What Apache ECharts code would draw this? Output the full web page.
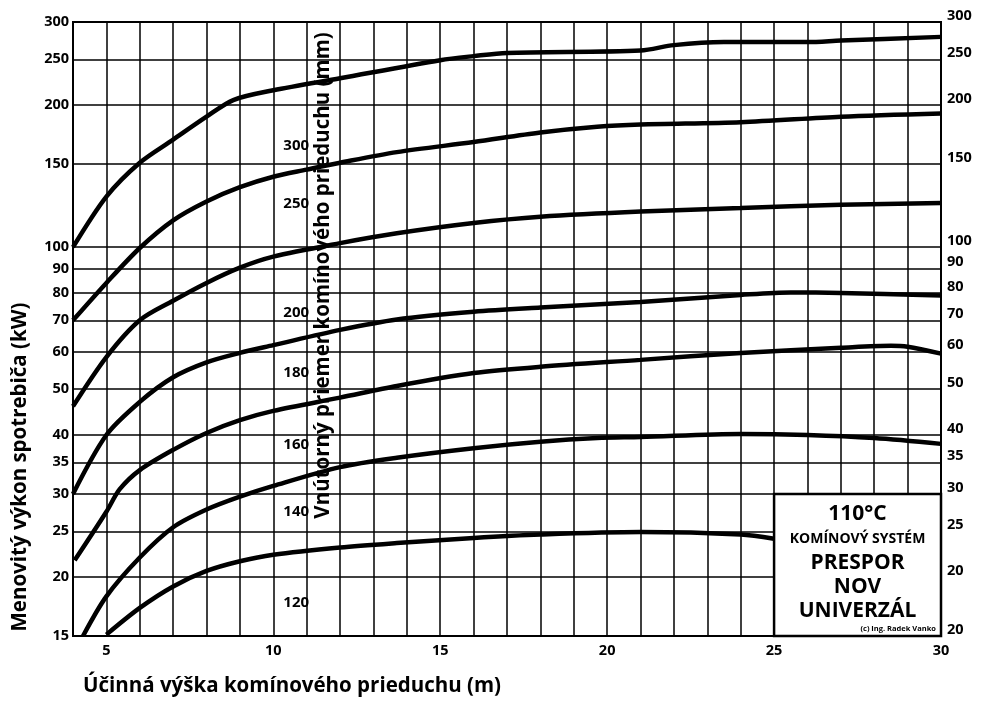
<!DOCTYPE html>
<html>
<head>
<meta charset="utf-8">
<script src="https://cdn.jsdelivr.net/npm/echarts@6/dist/echarts.min.js"></script>
<style>html,body{margin:0;padding:0;background:#fff}#c{width:981px;height:703px}</style>
</head>
<body>
<div id="c"></div>
<script>
// ---- data ----
const xLabelValues = [5, 10, 15, 20, 25, 30];
const yTickValues = [15, 20, 25, 30, 35, 40, 50, 60, 70, 80, 90, 100, 150, 200, 250, 300];
const yLeftLabels = ['15', '20', '25', '30', '35', '40', '50', '60', '70', '80', '90', '100', '150', '200', '250', '300'];
const yRightLabels = ['20', '20', '25', '30', '35', '40', '50', '60', '70', '80', '90', '100', '150', '200', '250', '300'];

const d300 = [[4,100],[5,128],[6,151],[7,169],[8,189],[8.8,205],[10,215],[12,228],[15,249],[16,254],[17,258],[21,261],[22,268],[23.5,272],[26,272],[27,274],[30,279]];
const d250 = [[4,70],[5,84],[6,99.6],[7,114],[8,125],[9,134],[10,141],[11,146],[12,151],[13.7,159],[16,167],[18,175],[19.7,180],[21,182],[24,184],[27,189],[30,192]];
const d200 = [[4,46],[5,58.5],[6,70],[7,77],[8,84],[9,90.5],[10,95.5],[12,102],[13.7,107],[16,112.5],[18,116],[21,119],[24,121],[27,123],[30,124]];
const d180 = [[4,30],[5,40],[6,47],[7,53],[8,57],[9,59.7],[10,62],[12,66.8],[13.7,70.3],[16,73],[18,74.5],[21,76.5],[24,79.2],[25.5,80.2],[27,80],[30,79]];
const d160 = [[4.05,21.7],[5,27.5],[5.4,30.7],[6,33.7],[7,37.2],[8,40.4],[9,43],[10,45],[12,48],[13.7,50.8],[16,54.1],[18,55.8],[21,57.7],[24,59.7],[27,61.2],[28.5,61.8],[29,61.5],[30,59.5]];
const d140 = [[4.3,15],[5,18.2],[6,22],[7,25.5],[8,27.8],[9,29.6],[10,31.2],[12,34.2],[13.7,35.8],[16,37.5],[18,38.7],[19.7,39.4],[21,39.6],[24,40.2],[26,40],[28,39.4],[30,38.3]];
const d120 = [[5,15.1],[6,17.2],[7,19.1],[8,20.6],[9,21.6],[10,22.3],[12,23.1],[13.7,23.6],[16,24.2],[18,24.6],[21,24.9],[24,24.6],[25,24.1]];

const diamNames = ['300', '250', '200', '180', '160', '140', '120'];
const diamLabelX = [10.7, 10.7, 10.7, 10.7, 10.7, 10.7, 10.7];
const diamLabelY = [164, 123.5, 72.5, 54, 38, 27.5, 17.6];

const boxX = [25, 30];
const boxY = [15, 30];

const xTitle = 'Účinná výška komínového prieduchu (m)';
const yTitle = 'Menovitý výkon spotrebiča (kW)';
const innerTitle = 'Vnútorný priemer komínového prieduchu (mm)';
const innerTitlePos = [11.5, 86.9];

// ---- chart ----
const FONT = 'Open Sans';
const chart = echarts.init(document.getElementById('c'), null, {renderer: 'canvas'});

function curve(data) {
  return {
    type: 'line', data: data, smooth: 0.3, showSymbol: false, symbol: 'none',
    lineStyle: {color: '#000', width: 4.5}, z: 5, silent: true
  };
}

const option = {
  backgroundColor: '#fff',
  animation: false,
  textStyle: {fontFamily: FONT},
  grid: {left: 73, right: 40, top: 22, bottom: 67, show: true, borderColor: '#000', borderWidth: 2, backgroundColor: '#fff'},
  xAxis: {
    type: 'value', min: 4, max: 30, interval: 1,
    axisLine: {show: true, lineStyle: {color: '#000', width: 2}},
    axisTick: {show: false},
    splitLine: {show: true, lineStyle: {color: '#000', width: 1.5}},
    axisLabel: {customValues: xLabelValues, color: '#000', fontWeight: 'bold', fontSize: 14.5, fontFamily: FONT, margin: 7}
  },
  yAxis: [{
    type: 'log', min: 15, max: 300, position: 'left',
    axisLine: {show: true, lineStyle: {color: '#000', width: 2}},
    axisTick: {show: false, customValues: yTickValues},
    splitLine: {show: true, lineStyle: {color: '#000', width: 1.5}},
    axisLabel: {customValues: yTickValues, color: '#000', fontWeight: 'bold', fontSize: 14.5, fontFamily: FONT, margin: 4,
      formatter: v => yLeftLabels[yTickValues.indexOf(Math.round(v))]}
  }, {
    type: 'log', min: 15, max: 300, position: 'right',
    axisLine: {show: true, lineStyle: {color: '#000', width: 2}},
    axisTick: {show: false, customValues: yTickValues},
    splitLine: {show: false},
    axisLabel: {customValues: yTickValues, color: '#000', fontWeight: 'bold', fontSize: 14.5, fontFamily: FONT, margin: 6,
      verticalAlign: 'bottom', lineHeight: 13,
      formatter: v => yRightLabels[yTickValues.indexOf(Math.round(v))]}
  }],
  series: [
    curve(d300), curve(d250), curve(d200), curve(d180), curve(d160), curve(d140), curve(d120),
    {
      type: 'line', data: [], silent: true, z: 6,
      markPoint: {
        silent: true, symbol: 'circle', symbolSize: 1, itemStyle: {color: 'rgba(0,0,0,0)'},
        label: {show: true, position: [0, 0], align: 'center', verticalAlign: 'middle', formatter: p => '{t|' + p.name + '}',
          rich: {t: {color: '#000', fontWeight: 700, fontSize: 15, fontFamily: FONT}}},
        data: diamNames.map((n, i) => ({coord: [diamLabelX[i], diamLabelY[i]], name: n}))
      }
    },
    {
      type: 'line', data: [], silent: true, z: 4,
      markPoint: {
        silent: true, symbol: 'circle', symbolSize: 1, itemStyle: {color: 'rgba(0,0,0,0)'},
        label: {show: true, position: [0, 0], align: 'center', verticalAlign: 'middle', rotate: 90, formatter: p => '{t|' + p.name + '}',
          rich: {t: {color: '#000', fontWeight: 700, fontSize: 20.5, fontFamily: FONT}}},
        data: [{coord: innerTitlePos, name: innerTitle}]
      }
    },
    {
      type: 'line', data: [], silent: true, z: 8,
      markArea: {
        silent: true,
        itemStyle: {color: '#fff', borderColor: '#000', borderWidth: 2.5},
        label: {
          show: true, position: 'insideTop', distance: 8, color: '#000', fontFamily: FONT, textBorderWidth: 0,
          formatter: '{a|110°C}\n{b|KOMÍNOVÝ SYSTÉM}\n{c|PRESPOR}\n{c|NOV}\n{c|UNIVERZÁL}',
          rich: {
            a: {fontSize: 21, fontWeight: 'bold', lineHeight: 26, fontFamily: FONT, color: '#000', align: 'center'},
            b: {fontSize: 14, fontWeight: 'bold', lineHeight: 24, fontFamily: FONT, color: '#000', align: 'center'},
            c: {fontSize: 21, fontWeight: 'bold', lineHeight: 24, fontFamily: FONT, color: '#000', align: 'center'}
          }
        },
        data: [[{coord: [boxX[0], boxY[1]]}, {coord: [boxX[1], boxY[0]]}]]
      },
      markPoint: {
        silent: true, symbol: 'circle', symbolSize: 0,
        label: {show: true, position: 'left', distance: 0, color: '#000', textBorderWidth: 0, fontWeight: 'bold', fontSize: 7.5, fontFamily: FONT, formatter: '(c) Ing. Radek Vanko'},
        data: [{coord: [29.85, 15.5]}]
      }
    }
  ],
  graphic: [
    {type: 'text', left: 83, top: 676, style: {text: xTitle, fill: '#000', font: 'bold 20.5px "Open Sans"'}},
    {type: 'text', x: 20, y: 467, rotation: Math.PI / 2, style: {text: yTitle, fill: '#000', font: 'bold 20.5px "Open Sans"', align: 'center', verticalAlign: 'middle'}}
  ]
};
chart.setOption(option);
</script>
</body>
</html>
